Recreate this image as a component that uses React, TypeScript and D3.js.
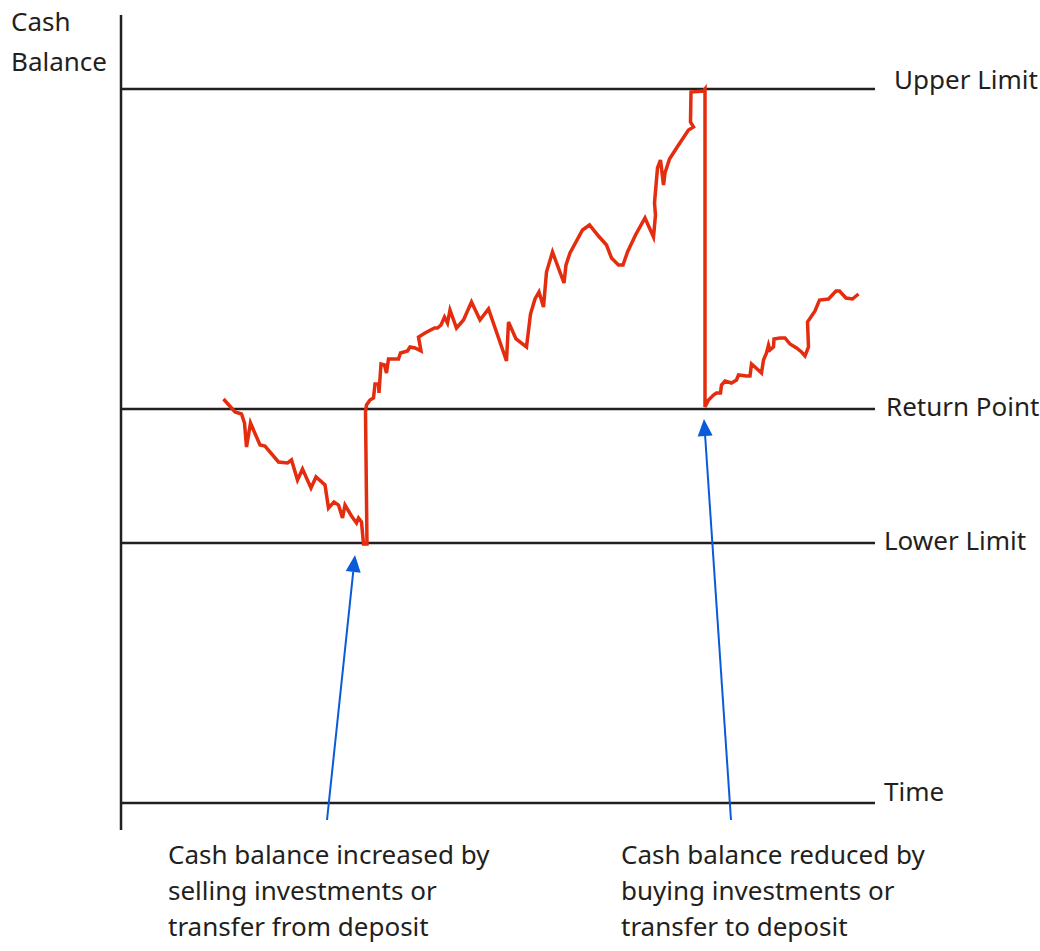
import React from "react";
import * as d3 from "d3";

// time (days) vs cash balance (thousands)
const levelNames = ["Upper Limit", "Return Point", "Lower Limit", "Time"];
const levelValues = [71.4, 39.4, 26.0, 0];
const levelLabelX = [894, 886, 884, 884];

const balanceDays = [
  20.5, 22.8, 24.1, 24.7, 25.1, 25.9, 27.8, 28.8, 31.5, 33.3, 34.1, 35.3, 36.3, 38.0, 39.0, 40.8,
  41.5, 42.6, 43.5, 44.3, 44.8, 46.1, 47.1, 47.5, 48.1, 48.5, 49.2, 48.9, 49.1, 49.8, 50.5, 50.8,
  51.5, 51.6, 52.0, 52.7, 53.1, 53.5, 55.5, 55.9, 57.3, 57.8, 58.8, 60.0, 59.5, 60.8, 62.7, 63.3,
  64.0, 64.7, 65.3, 65.8, 67.1, 68.5, 70.1, 71.8, 73.5, 77.1, 77.5, 79.0, 81.1, 81.9, 82.8, 83.6,
  84.5, 85.1, 86.3, 88.6, 89.0, 89.8, 92.3, 93.7, 95.5, 97.1, 98.1, 99.5, 100.4, 101.3, 102.9,
  104.8, 106.5, 106.9, 106.7, 107.3, 107.9, 108.5, 108.8, 109.7, 111.5, 113.5, 114.5, 113.9, 114.0,
  116.5, 116.8, 116.8, 117.5, 118.5, 119.1, 119.9, 120.1, 120.8, 122.1, 123.1, 123.5, 125.1, 125.8,
  126.1, 126.8, 128.1, 128.5, 129.1, 129.5, 129.8, 130.5, 130.6, 131.8, 132.8, 133.8, 135.1, 136.1,
  136.8, 137.5, 137.3, 138.8, 139.7, 141.5, 143.0, 143.7, 145.0, 146.3, 147.5,
];
const balanceValues = [
  40.4, 39.1, 38.9, 38.0, 35.6, 38.0, 35.8, 35.7, 34.1, 34.0, 34.3, 32.3, 33.4, 31.5, 32.6, 31.8,
  29.5, 30.1, 29.8, 28.5, 29.8, 28.7, 28.0, 28.5, 28.1, 25.9, 25.9, 39.1, 39.8, 40.3, 40.5, 41.9,
  41.9, 41.0, 43.9, 43.8, 43.0, 44.4, 44.4, 45.0, 45.2, 45.6, 45.5, 45.2, 46.6, 47.0, 47.5, 47.5,
  47.8, 48.6, 48.0, 49.3, 47.5, 48.3, 50.1, 48.3, 49.4, 44.2, 48.1, 46.4, 45.6, 48.9, 50.4, 51.1,
  49.6, 53.1, 55.1, 52.0, 53.8, 55.0, 57.3, 57.8, 56.7, 55.8, 54.5, 53.8, 53.8, 55.1, 56.8,
  58.5, 56.6, 58.8, 60.0, 63.5, 64.3, 61.8, 63.0, 64.4, 65.8, 67.3, 67.6, 68.1, 71.1,
  71.2, 71.4, 39.6, 40.3, 40.8, 41.0, 41.0, 41.8, 42.2, 42.0, 42.3, 42.8, 42.7, 42.7,
  43.9, 43.6, 43.0, 44.3, 45.0, 45.8, 45.3, 45.6, 46.4, 46.5, 46.5, 45.9, 45.5, 45.1,
  44.7, 45.6, 48.1, 49.2, 50.3, 50.4, 51.2, 51.2, 50.5, 50.4, 50.9,
];

// annotation arrows: [day, value] of tail and tip
const arrowTails = [
  [41.2, -1.7],
  [122.0, -1.7],
];
const arrowTips = [
  [46.8, 24.8],
  [116.6, 38.4],
];
const noteLines = [
  ["Cash balance increased by", "selling investments or", "transfer from deposit"],
  ["Cash balance reduced by", "buying investments or", "transfer to deposit"],
];
const noteX = [168, 621];

const W = 1040;
const H = 951;
const INK = "#231f20";
const RED = "#e42c0e";
const BLUE = "#0a5bd9";
const FONT = "'Noto Sans', 'Open Sans', sans-serif";
const FS = 26;

export default function App() {
  const x = d3.scaleLinear().domain([0, 150.8]).range([121, 875]);
  const y = d3.scaleLinear().domain([0, 71.4]).range([803, 89]);

  const pts: [number, number][] = balanceDays.map((d, i) => [d, balanceValues[i]]);
  const line = d3
    .line<[number, number]>()
    .x((d) => x(d[0]))
    .y((d) => y(d[1]));

  const head = (tail: number[], tip: number[]) => {
    const x0 = x(tail[0]), y0 = y(tail[1]);
    const x1 = x(tip[0]), y1 = y(tip[1]);
    const ang = Math.atan2(y1 - y0, x1 - x0);
    const len = 17, half = 7.5;
    const bx = x1 - len * Math.cos(ang), by = y1 - len * Math.sin(ang);
    const px = -Math.sin(ang) * half, py = Math.cos(ang) * half;
    return {
      shaft: { x1: x0, y1: y0, x2: bx, y2: by },
      poly: `${x1},${y1} ${bx + px},${by + py} ${bx - px},${by - py}`,
    };
  };

  return (
    <svg
      width={W}
      height={H}
      style={{ position: "absolute", left: 0, top: 0, background: "#fff" }}
      fontFamily={FONT}
    >
      {/* y axis */}
      <line x1={x(0)} x2={x(0)} y1={y(78.8)} y2={y(-2.7)} stroke={INK} strokeWidth={2.5} />

      {/* level lines */}
      {levelValues.map((v, i) => (
        <g key={levelNames[i]}>
          <line x1={x(0)} x2={x(150.8)} y1={y(v)} y2={y(v)} stroke={INK} strokeWidth={2.5} />
          <text
            x={levelLabelX[i]}
            y={y(v)}
            dy={i === 0 ? -7 : i === 3 ? -9 : 0}
            dominantBaseline="middle"
            fontSize={FS}
            fill={INK}
          >
            {levelNames[i]}
          </text>
        </g>
      ))}

      <text x={11} y={31} fontSize={FS} fill={INK}>Cash</text>
      <text x={11} y={71} fontSize={FS} fill={INK}>Balance</text>

      {/* cash balance path */}
      <path
        d={line(pts) || ""}
        fill="none"
        stroke={RED}
        strokeWidth={3.5}
        strokeLinejoin="miter"
        strokeMiterlimit={4}
      />

      {/* annotation arrows */}
      {arrowTails.map((t, i) => {
        const a = head(t, arrowTips[i]);
        return (
          <g key={i}>
            <line {...a.shaft} stroke={BLUE} strokeWidth={2} />
            <polygon points={a.poly} fill={BLUE} />
          </g>
        );
      })}

      {noteLines.map((lines, i) =>
        lines.map((s, j) => (
          <text key={`${i}-${j}`} x={noteX[i]} y={864 + j * 36} fontSize={FS} fill={INK}>
            {s}
          </text>
        ))
      )}
    </svg>
  );
}
